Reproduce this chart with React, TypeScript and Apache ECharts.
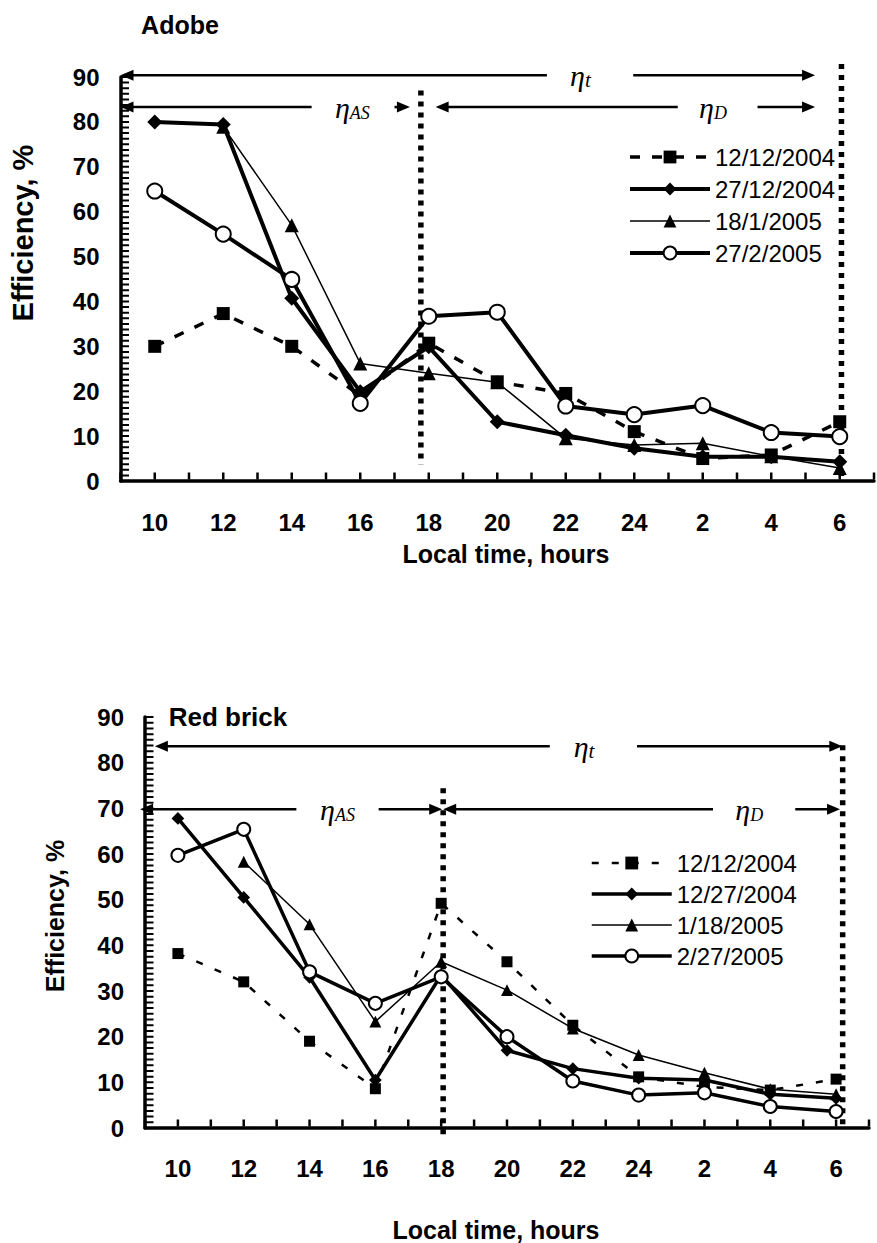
import React, { useEffect, useRef } from 'react';
import * as echarts from 'echarts';

const FONT = '"Liberation Sans", Arial, sans-serif';
const SERIF = '"Liberation Serif", "Times New Roman", serif';

// x positions (hours after midnight of first day) and their tick labels
const hours = [10, 12, 14, 16, 18, 20, 22, 24, 26, 28, 30];
const hourLabels = ['10', '12', '14', '16', '18', '20', '22', '24', '2', '4', '6'];
const X_MIN = 9;
const X_MAX = 31;
const Y_MIN = 0;
const Y_MAX = 90;
const Y_MINOR = 8; // minor divisions per major step

// Adobe
const adobeNames = ['12/12/2004', '27/12/2004', '18/1/2005', '27/2/2005'];
const adobe1212 = [30, 37.3, 30, 19, 30.7, 22.1, 19.5, 11, 5, 5.8, 13.2];
const adobe2712 = [80, 79.4, 40.7, 19.9, 29.9, 13.2, 10.2, 7.3, 5.4, 5.4, 4.3];
const adobe1801 = [null, 78.9, 57, 26.2, 24, 22, 9.5, 8, 8.4, 5.5, 2.9];
const adobe2702 = [64.6, 55, 44.9, 17.3, 36.7, 37.6, 16.7, 14.8, 16.8, 10.8, 9.9];

// Red brick
const brickNames = ['12/12/2004', '12/27/2004', '1/18/2005', '2/27/2005'];
const brick1212 = [38.2, 32, 19, 8.6, 49.2, 36.4, 22.5, 11.2, 9, 8.3, 10.7];
const brick1227 = [67.8, 50.5, 33, 10.5, 33.5, 17, 13, 10.9, 10.5, 7.4, 6.5];
const brick0118 = [null, 58.3, 44.6, 23.3, 36.4, 30.2, 21.8, 16, 12.1, 8.5, 7.4];
const brick0227 = [59.7, 65.4, 34.2, 27.3, 33.1, 20, 10.3, 7.2, 7.7, 4.7, 3.6];

// annotation spans (data units)
const adobeSpans = [
  { sub: 't', y: 90.4, tipL: 9.0, endL: 21.45, startR: 23.97, tipR: 29.28, textX: 22.43 },
  { sub: 'AS', y: 83.3, tipL: 9.0, endL: 14.58, startR: 17.0, tipR: 17.45, textX: 15.77 },
  { sub: 'D', y: 83.3, tipL: 18.2, endL: 25.27, startR: 27.6, tipR: 29.28, textX: 26.3 },
];
const adobeDotted = [
  { x: 17.77, y1: 87, y2: 3.6 },
  { x: 30.05, y1: 92.9, y2: 0 },
];
const brickSpans = [
  { sub: 't', y: 83.6, tipL: 9.3, endL: 21.3, startR: 23.95, tipR: 30.19, textX: 22.34 },
  { sub: 'AS', y: 69.8, tipL: 8.85, endL: 13.6, startR: 16.1, tipR: 18.03, textX: 14.85 },
  { sub: 'D', y: 69.8, tipL: 18.06, endL: 26.26, startR: 28.76, tipR: 30.12, textX: 27.36 },
];
const brickDotted = [
  { x: 18.06, y1: 74.4, y2: -2.6 },
  { x: 30.2, y1: 83.8, y2: 0 },
];

const PREFIX = ['A ', 'B '];

function pairs(values: (number | null)[]) {
  const out: number[][] = [];
  hours.forEach((h, i) => {
    const v = values[i];
    if (v !== null && v !== undefined) out.push([h, v]);
  });
  return out;
}

function seriesStyles(big: boolean) {
  const k = big ? 1 : 0.85;
  return [
    {
      symbol: 'rect', symbolSize: big ? 13 : 11,
      lineStyle: { color: '#000', width: big ? 3.5 : 2.5, type: big ? [10, 12] : [7, 13] },
      itemStyle: { color: '#000' },
    },
    {
      symbol: 'diamond', symbolSize: [15 * k, 15 * k],
      lineStyle: { color: '#000', width: big ? 4 : 3.5 },
      itemStyle: { color: '#000' },
    },
    {
      symbol: 'triangle', symbolSize: 14 * k,
      lineStyle: { color: '#000', width: 1.5 },
      itemStyle: { color: '#000' },
    },
    {
      symbol: 'circle', symbolSize: big ? 15 : 13,
      lineStyle: { color: '#000', width: big ? 4 : 3.5 },
      itemStyle: { color: '#fff', borderColor: '#000', borderWidth: 2 },
    },
  ];
}

function makeSeries(g: number, big: boolean, names: string[], vals: (number | null)[][]) {
  const styles = seriesStyles(big);
  return names.map((n, i) => ({
    type: 'line',
    name: PREFIX[g] + n,
    xAxisIndex: g,
    yAxisIndex: g,
    data: pairs(vals[i]),
    showSymbol: true,
    showAllSymbol: true,
    z: 3 + i,
    ...styles[i],
  }));
}

function xAxisCfg(g: number, margin: number) {
  return {
    gridIndex: g,
    type: 'value',
    min: X_MIN,
    max: X_MAX,
    interval: 1,
    axisLine: { show: true, lineStyle: { color: '#000', width: 3.5 } },
    axisTick: { show: false },
    axisLabel: {
      margin,
      color: '#000',
      fontSize: 24,
      fontWeight: 'bold',
      fontFamily: FONT,
      formatter: (v: number) => {
        const idx = hours.indexOf(v);
        return idx >= 0 ? hourLabels[idx] : '';
      },
    },
    splitLine: { show: false },
  };
}

function yAxisCfg(g: number) {
  return {
    gridIndex: g,
    type: 'value',
    min: Y_MIN,
    max: Y_MAX,
    interval: 10,
    axisLine: { show: true, onZero: false, lineStyle: { color: '#000', width: 3.5 } },
    axisTick: { show: false },
    minorTick: { show: false },
    axisLabel: { margin: 21, color: '#000', fontSize: 24, fontWeight: 'bold', fontFamily: FONT },
    splitLine: { show: false },
  };
}

function legendCfg(names: string[], g: number, big: boolean, left: number, top: number, gap: number) {
  const styles = seriesStyles(big);
  return {
    data: names.map((n, i) => ({
      name: PREFIX[g] + n,
      lineStyle: { width: styles[i].lineStyle.width, color: '#000', type: (styles[i].lineStyle as any).type || 'solid' },
    })),
    orient: 'vertical',
    left,
    top,
    padding: 0,
    itemWidth: 80,
    itemHeight: 16,
    itemGap: gap,
    selectedMode: false,
    formatter: (name: string) => name.slice(2),
    textStyle: { fontSize: 24, lineHeight: 24, color: '#000', fontFamily: FONT },
  };
}

function titleText(text: string, x: number, y: number, size: number, rotate = 0) {
  return {
    type: 'text',
    x,
    y,
    rotation: rotate,
    style: {
      text,
      fill: '#000',
      fontSize: size,
      fontWeight: 'bold',
      fontFamily: FONT,
      align: 'center',
      verticalAlign: 'middle',
    },
  };
}

export default function App() {
  const ref = useRef<HTMLDivElement>(null);
  useEffect(() => {
    if (!ref.current) return;
    const chart = echarts.init(ref.current, null, { renderer: 'svg' });
    const option: any = {
      animation: false,
      backgroundColor: '#fff',
      grid: [
        { left: 120.5, top: 77, width: 759, height: 404, containLabel: false },
        { left: 145, top: 717, width: 724, height: 411, containLabel: false },
      ],
      xAxis: [xAxisCfg(0, 29), xAxisCfg(1, 28)],
      yAxis: [yAxisCfg(0), yAxisCfg(1)],
      legend: [legendCfg(adobeNames, 0, true, 628, 145, 8), legendCfg(brickNames, 1, false, 590, 851, 7)],
      series: [
        ...makeSeries(0, true, adobeNames, [adobe1212, adobe2712, adobe1801, adobe2702]),
        ...makeSeries(1, false, brickNames, [brick1212, brick1227, brick0118, brick0227]),
      ],
    };
    chart.setOption(option);

    const px = (g: number, x: number, y: number) =>
      chart.convertToPixel({ gridIndex: g } as any, [x, y]) as number[];

    const graphics: any[] = [];

    // inside axis ticks drawn as dashed "combs" whose period comes from the axis scale
    const addTicks = (g: number) => {
      const o = px(g, X_MIN, Y_MIN);
      const xe = px(g, X_MAX, Y_MIN);
      const hourPx = (xe[0] - o[0]) / (X_MAX - X_MIN);
      graphics.push({
        type: 'line',
        shape: { x1: o[0] - 1.25, y1: o[1] - 5, x2: xe[0] + 1.25, y2: o[1] - 5 },
        style: { stroke: '#000', lineWidth: 7, lineDash: [2.5, hourPx - 2.5], lineCap: 'butt' },
        z: 10,
      });
      const ye = px(g, X_MIN, Y_MAX);
      const minorPx = (o[1] - ye[1]) / (((Y_MAX - Y_MIN) / 10) * Y_MINOR);
      graphics.push({
        type: 'line',
        shape: { x1: o[0] + 4.5, y1: o[1] + 1, x2: o[0] + 4.5, y2: ye[1] - 1 },
        style: { stroke: '#000', lineWidth: 8, lineDash: [2, minorPx - 2], lineCap: 'butt' },
        z: 10,
      });
    };
    addTicks(0);
    addTicks(1);

    const addSpans = (g: number, spans: any[], lw: number, etaSize: number) => {
      spans.forEach((s) => {
        const a = px(g, s.tipL, s.y);
        const b = px(g, s.endL, s.y);
        const c = px(g, s.startR, s.y);
        const d = px(g, s.tipR, s.y);
        const t = px(g, s.textX, s.y);
        const y = a[1];
        const L = 13;
        const H = 5.5;
        graphics.push({ type: 'line', shape: { x1: a[0] + L - 2, y1: y, x2: b[0], y2: y }, style: { stroke: '#000', lineWidth: lw } });
        graphics.push({ type: 'line', shape: { x1: c[0], y1: y, x2: d[0] - L + 2, y2: y }, style: { stroke: '#000', lineWidth: lw } });
        graphics.push({ type: 'polygon', shape: { points: [[a[0], y], [a[0] + L, y - H], [a[0] + L, y + H]] }, style: { fill: '#000' } });
        graphics.push({ type: 'polygon', shape: { points: [[d[0], y], [d[0] - L, y - H], [d[0] - L, y + H]] }, style: { fill: '#000' } });
        graphics.push({
          type: 'text',
          x: t[0],
          y: t[1],
          style: {
            text: '{e|η}{s|' + s.sub + '}',
            align: 'center',
            verticalAlign: 'middle',
            rich: {
              e: { fontSize: etaSize, fontFamily: SERIF, fontStyle: 'italic', fill: '#000', verticalAlign: 'middle' },
              s: { fontSize: s.sub === 't' ? 21 : 18, fontFamily: SERIF, fontStyle: 'italic', fill: '#000', verticalAlign: 'bottom' },
            },
          },
        });
      });
    };
    const addDotted = (g: number, list: any[]) => {
      list.forEach((l) => {
        const p1 = px(g, l.x, l.y1);
        const p2 = px(g, l.x, l.y2);
        graphics.push({
          type: 'line',
          shape: { x1: p1[0], y1: p1[1], x2: p2[0], y2: p2[1] },
          style: { stroke: '#000', lineWidth: 5.5, lineDash: [5, 6], lineCap: 'butt' },
        });
      });
    };
    addSpans(0, adobeSpans, 2.5, 30);
    addSpans(1, brickSpans, 2.5, 30);
    addDotted(0, adobeDotted);
    addDotted(1, brickDotted);

    graphics.push(titleText('Adobe', 180, 25, 25));
    graphics.push(titleText('Red brick', 228, 717, 26));
    graphics.push(titleText('Local time, hours', 506, 554, 25));
    graphics.push(titleText('Local time, hours', 496, 1230, 25));
    graphics.push(titleText('Efficiency, %', 23, 233, 29, Math.PI / 2));
    graphics.push(titleText('Efficiency, %', 55, 916, 25, Math.PI / 2));

    chart.setOption({ graphic: graphics });
    return () => chart.dispose();
  }, []);
  return (
    <div
      ref={ref}
      style={{ position: 'absolute', left: 0, top: 0, width: 877, height: 1243, background: '#fff' }}
    />
  );
}
